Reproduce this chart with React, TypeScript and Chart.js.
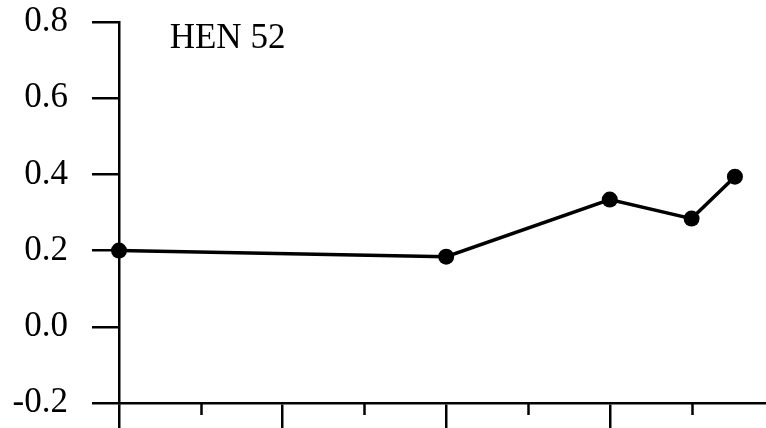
import React, { useEffect, useRef } from "react";
import { Chart, registerables } from "chart.js";

Chart.register(...registerables);

const xValues = [0, 4, 6, 7, 7.53];
const yValues = [0.2, 0.184, 0.334, 0.284, 0.394];
const yTicks = [-0.2, 0.0, 0.2, 0.4, 0.6, 0.8];
const xMajorTicks = [0, 2, 4, 6];
const xMinorTicks = [1, 3, 5, 7];
const panelLabel = "HEN 52";
const labelPos = { x: 0.62, y: 0.731 };

const FONT = "'Liberation Serif', 'Times New Roman', serif";

const extrasPlugin = {
  id: "extras",
  afterDraw(chart: any) {
    const ctx = chart.ctx;
    const xs = chart.scales.x;
    const ys = chart.scales.y;
    const bottom = chart.chartArea.bottom;
    ctx.save();
    ctx.strokeStyle = "#000";
    ctx.lineWidth = 2.5;
    for (const v of xMinorTicks) {
      const px = Math.round(xs.getPixelForValue(v)) + 0.5;
      ctx.beginPath();
      ctx.moveTo(px, bottom);
      ctx.lineTo(px, bottom + 12);
      ctx.stroke();
    }
    ctx.fillStyle = "#000";
    ctx.font = `35px ${FONT}`;
    ctx.textAlign = "left";
    ctx.textBaseline = "alphabetic";
    ctx.fillText(panelLabel, xs.getPixelForValue(labelPos.x), ys.getPixelForValue(labelPos.y));
    ctx.restore();
  },
};

export default function App() {
  const ref = useRef<HTMLCanvasElement>(null);
  useEffect(() => {
    if (!ref.current) return;
    const chart = new Chart(ref.current, {
      type: "line",
      data: {
        datasets: [
          {
            data: xValues.map((x, i) => ({ x, y: yValues[i] })),
            borderColor: "#000",
            borderWidth: 3.5,
            backgroundColor: "#000",
            pointBackgroundColor: "#000",
            pointBorderWidth: 0,
            pointRadius: 8,
            tension: 0,
            clip: false,
          },
        ],
      },
      options: {
        responsive: false,
        animation: false,
        events: [],
        layout: { autoPadding: false, padding: { top: 22, right: 0, bottom: 0, left: 0 } },
        plugins: { legend: { display: false }, tooltip: { enabled: false }, title: { display: false } },
        scales: {
          x: {
            type: "linear",
            min: 0,
            max: 7.91,
            afterBuildTicks: (s: any) => {
              s.ticks = xMajorTicks.map((v) => ({ value: v }));
            },
            afterFit: (s: any) => {
              s.height = 25;
              s.paddingLeft = 0;
              s.paddingRight = 0;
            },
            ticks: { display: false },
            grid: {
              drawOnChartArea: false,
              drawTicks: true,
              tickLength: 25,
              color: "#000",
              lineWidth: 2.5,
            },
            border: { display: true, color: "#000", width: 2.5 },
          },
          y: {
            type: "linear",
            min: -0.2,
            max: 0.8,
            afterBuildTicks: (s: any) => {
              s.ticks = yTicks.map((v) => ({ value: v }));
            },
            afterFit: (s: any) => {
              s.width = 119;
              s.paddingTop = 0;
              s.paddingBottom = 0;
            },
            ticks: {
              color: "#000",
              padding: 24,
              font: { family: FONT, size: 35 },
              callback: (v: any) => Number(v).toFixed(1),
            },
            grid: {
              drawOnChartArea: false,
              drawTicks: true,
              tickLength: 27,
              color: "#000",
              lineWidth: 2.5,
            },
            border: { display: true, color: "#000", width: 2.5 },
          },
        },
      },
      plugins: [extrasPlugin],
    } as any);
    return () => chart.destroy();
  }, []);
  return (
    <div style={{ position: "absolute", left: 0, top: 0, width: 766, height: 428, background: "#fff" }}>
      <canvas ref={ref} width={766} height={428} />
    </div>
  );
}
